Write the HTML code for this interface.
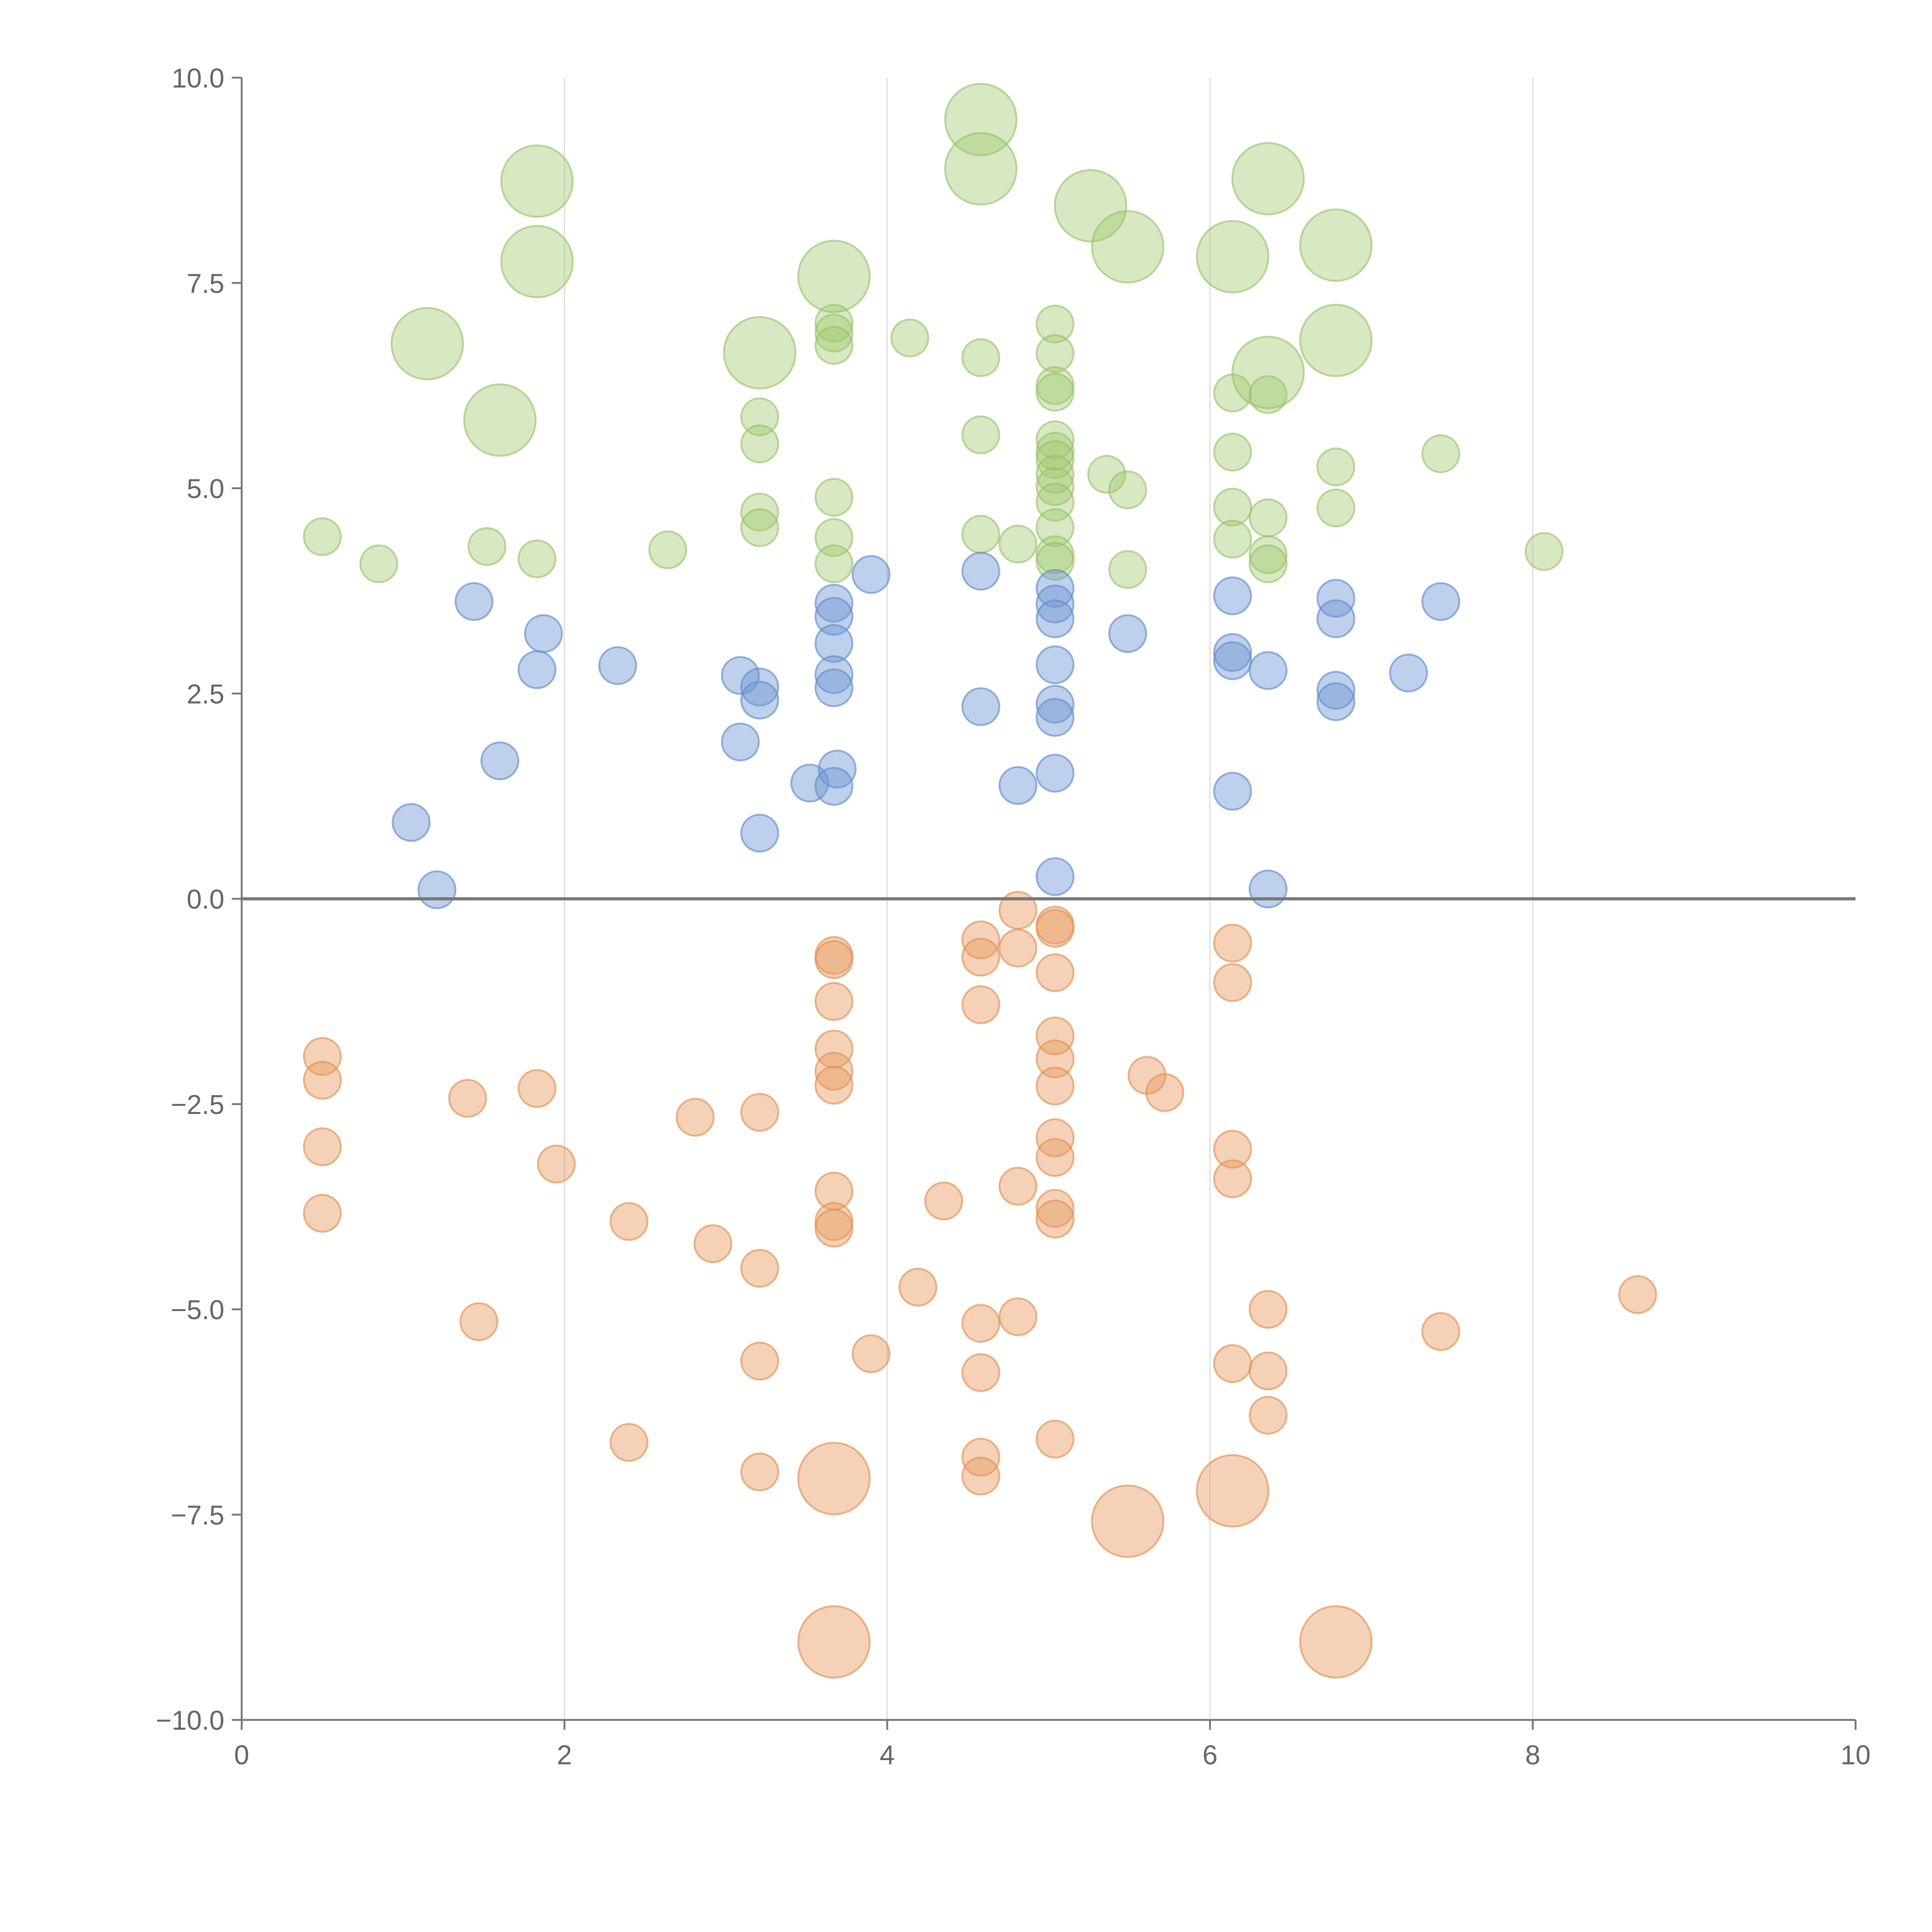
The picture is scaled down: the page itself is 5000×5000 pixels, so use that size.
<!DOCTYPE html>
<html><head><meta charset="utf-8"><style>
html,body{margin:0;padding:0;background:#fff}
svg{display:block}
text{font-family:"Liberation Sans",Arial,sans-serif;fill:#666}
</style></head>
<body>
<svg id="chart" width="5000" height="5000" viewBox="0 0 1567 1567" xmlns="http://www.w3.org/2000/svg">
<g id="grid"></g>
<g id="marks"></g>
<g id="axes"></g>
</svg>
<script>
const xTicks=[0,2,4,6,8,10];
const yTicks=[-10,-7.5,-5,-2.5,0,2.5,5,7.5,10];
const greenX=[0.5,0.85,1.52,1.83,2.64,3.21,3.21,3.21,3.21,3.67,3.67,3.67,3.67,3.67,3.67,4.14,4.58,4.58,4.58,4.81,5.04,5.04,5.04,5.04,5.04,5.04,5.04,5.04,5.04,5.04,5.04,5.04,5.04,5.36,5.49,5.49,6.14,6.14,6.14,6.14,6.36,6.36,6.36,6.36,6.78,6.78,7.43,8.07,
1.83,1.83,1.15,1.6,3.21,3.67,4.58,4.58,5.26,5.49,6.14,6.36,6.36,6.78,6.78];
const greenY=[4.41,4.08,4.29,4.14,4.25,5.87,5.54,4.71,4.52,7.01,6.89,6.74,4.89,4.4,4.08,6.83,6.59,5.65,4.44,4.32,7.0,6.64,6.25,6.17,5.59,5.45,5.35,5.17,5.02,4.83,4.52,4.19,4.11,5.17,4.98,4.01,6.16,5.44,4.77,4.38,6.14,4.64,4.19,4.08,5.26,4.76,5.42,4.23,
8.74,7.76,6.76,5.83,6.65,7.58,9.49,8.89,8.44,7.94,7.82,8.77,6.41,7.96,6.8];
const greenSize=[1,1,1,1,1,1,1,1,1,1,1,1,1,1,1,1,1,1,1,1,1,1,1,1,1,1,1,1,1,1,1,1,1,1,1,1,1,1,1,1,1,1,1,1,1,1,1,1,
2,2,2,2,2,2,2,2,2,2,2,2,2,2,2];
const blueX=[1.44,1.87,1.83,2.33,1.6,1.05,1.21,3.09,3.21,3.21,3.09,3.21,3.52,3.67,3.67,3.67,3.67,3.67,3.69,3.67,3.9,4.58,4.58,4.81,5.04,5.04,5.04,5.04,5.04,5.04,5.04,5.04,5.49,6.14,6.14,6.14,6.14,6.36,6.36,6.78,6.78,6.78,6.78,7.23,7.43];
const blueY=[3.62,3.23,2.79,2.84,1.68,0.93,0.11,2.72,2.58,2.42,1.91,0.8,1.41,3.6,3.44,3.11,2.73,2.57,1.58,1.37,3.95,3.99,2.34,1.38,3.78,3.59,3.41,2.85,2.37,2.21,1.53,0.27,3.23,3.69,3.0,2.9,1.31,2.78,0.12,3.66,3.41,2.54,2.4,2.75,3.62];
const orangeX=[0.5,0.5,0.5,0.5,1.4,1.47,1.83,1.95,2.4,2.4,2.81,2.92,3.21,3.21,3.21,3.21,3.67,3.67,3.67,3.67,3.67,3.67,3.67,3.67,3.67,3.9,4.19,4.35,4.58,4.58,4.58,4.58,4.58,4.58,4.58,4.81,4.81,4.81,4.81,5.04,5.04,5.04,5.04,5.04,5.04,5.04,5.04,5.04,5.04,5.04,5.61,5.72,6.14,6.14,6.14,6.14,6.14,6.36,6.36,6.36,7.43,8.65,
3.67,5.49,6.14,3.67,6.78];
const orangeY=[-1.92,-2.21,-3.02,-3.83,-2.43,-5.15,-2.31,-3.23,-3.93,-6.62,-2.66,-4.2,-2.6,-4.5,-5.63,-6.98,-0.69,-0.74,-1.25,-1.83,-2.1,-2.27,-3.56,-3.93,-4.01,-5.54,-4.73,-3.68,-0.5,-0.71,-1.29,-5.17,-5.77,-6.8,-7.03,-0.14,-0.6,-3.5,-5.09,-0.32,-0.36,-0.9,-1.67,-1.95,-2.28,-2.91,-3.15,-3.77,-3.9,-6.58,-2.15,-2.36,-0.54,-1.02,-3.05,-3.41,-5.66,-5.0,-5.75,-6.29,-5.27,-4.82,
-7.06,-7.58,-7.21,-9.05,-9.05];
const orangeSize=[1,1,1,1,1,1,1,1,1,1,1,1,1,1,1,1,1,1,1,1,1,1,1,1,1,1,1,1,1,1,1,1,1,1,1,1,1,1,1,1,1,1,1,1,1,1,1,1,1,1,1,1,1,1,1,1,1,1,1,1,1,1,
2,2,2,2,2];

const NS="http://www.w3.org/2000/svg";
const X0=196,X1=1505,Y0=1395,Y1=63;
const xs=v=>X0+(v-0)/(10-0)*(X1-X0);
const ys=v=>Y0-(v+10)/20*(Y0-Y1);
const rs=s=>s===2?29:15;
function mk(tag,attrs,parent){const e=document.createElementNS(NS,tag);for(const k in attrs)e.setAttribute(k,attrs[k]);parent.appendChild(e);return e;}
const grid=document.getElementById('grid'),marks=document.getElementById('marks'),axes=document.getElementById('axes');
xTicks.forEach(t=>{if(t>0&&t<10){const l=mk('line',{x1:xs(t),x2:xs(t),y1:Y1,y2:Y0,stroke:'#ddd','stroke-width':1},grid);

}});
function series(xa,ya,sa,fill,stroke,name){xa.forEach((x,i)=>{const s=sa?sa[i]:1;
const c=mk('circle',{cx:xs(x),cy:ys(ya[i]),r:rs(s),fill:fill,stroke:stroke,'stroke-width':1.5},marks);

});}
series(greenX,greenY,greenSize,'rgba(160,200,110,0.42)','rgba(150,190,100,0.6)','bubble-green');
series(blueX,blueY,null,'rgba(110,150,210,0.45)','rgba(100,140,205,0.65)','bubble-blue');
series(orangeX,orangeY,orangeSize,'rgba(232,155,95,0.45)','rgba(225,145,85,0.65)','bubble-orange');
let a=mk('line',{x1:X0,x2:X0,y1:Y1,y2:Y0,stroke:'#777','stroke-width':1.5},axes);


a=mk('line',{x1:X0,x2:X1,y1:Y0,y2:Y0,stroke:'#777','stroke-width':1.5},axes);


a=mk('line',{x1:X0,x2:X1,y1:ys(0),y2:ys(0),stroke:'#777','stroke-width':2.5},axes);


yTicks.forEach(t=>{const y=ys(t);
const l=mk('line',{x1:X0-8,x2:X0,y1:y,y2:y,stroke:'#777','stroke-width':1.5},axes);


const tx=mk('text',{x:X0-14,y:y+8,'text-anchor':'end','font-size':22},axes);
tx.textContent=(t<0?'\u2212':'')+Math.abs(t).toFixed(1);

});
xTicks.forEach(t=>{const x=xs(t);
const l=mk('line',{x1:x,x2:x,y1:Y0,y2:Y0+8,stroke:'#777','stroke-width':1.5},axes);


const tx=mk('text',{x:x,y:Y0+36,'text-anchor':'middle','font-size':22},axes);
tx.textContent=String(t);

});
</script>
</body></html>
